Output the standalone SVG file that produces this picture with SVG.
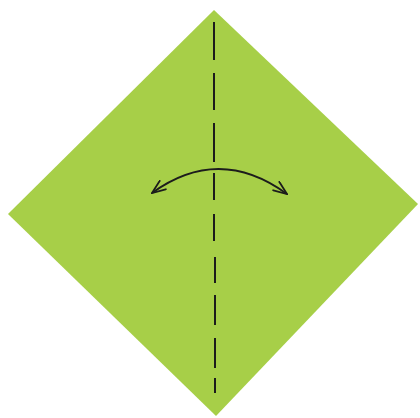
<svg xmlns="http://www.w3.org/2000/svg" width="420" height="418" viewBox="0 0 420 418">
  <defs>
    <style>
      .paper { fill: #a7cf48; }
      .crease { stroke: #1c1c1c; stroke-width: 2; fill: none; stroke-linecap: butt; }
      .arrow { stroke: #1c1c1c; stroke-width: 1.8; fill: none; }
    </style>
    <marker id="head" viewBox="0 0 16 12" refX="15" refY="6" markerWidth="16" markerHeight="12" markerUnits="userSpaceOnUse" orient="auto-start-reverse">
      <path d="M1,0.5 L15,6 L1,11.5" fill="none" stroke="#1c1c1c" stroke-width="1.8" stroke-linejoin="miter"/>
    </marker>
  </defs>
  <rect width="420" height="418" fill="#ffffff"/>
  <g id="paper">
    <polygon class="paper" points="214,10 418,204 216,416 8,214"/>
  </g>
  <g id="connectors">
    <path class="crease" d="M214,22 V60 M214,73 V110 M214,123 V162 M214,173 V200 M214,214 V241 M215,257 V283 M215,295 V325 M215,338 V368 M215,378 V393"/>
    <path class="arrow" d="M152,193 Q219,144.5 287,194" marker-start="url(#head)" marker-end="url(#head)"/>
  </g>
</svg>
